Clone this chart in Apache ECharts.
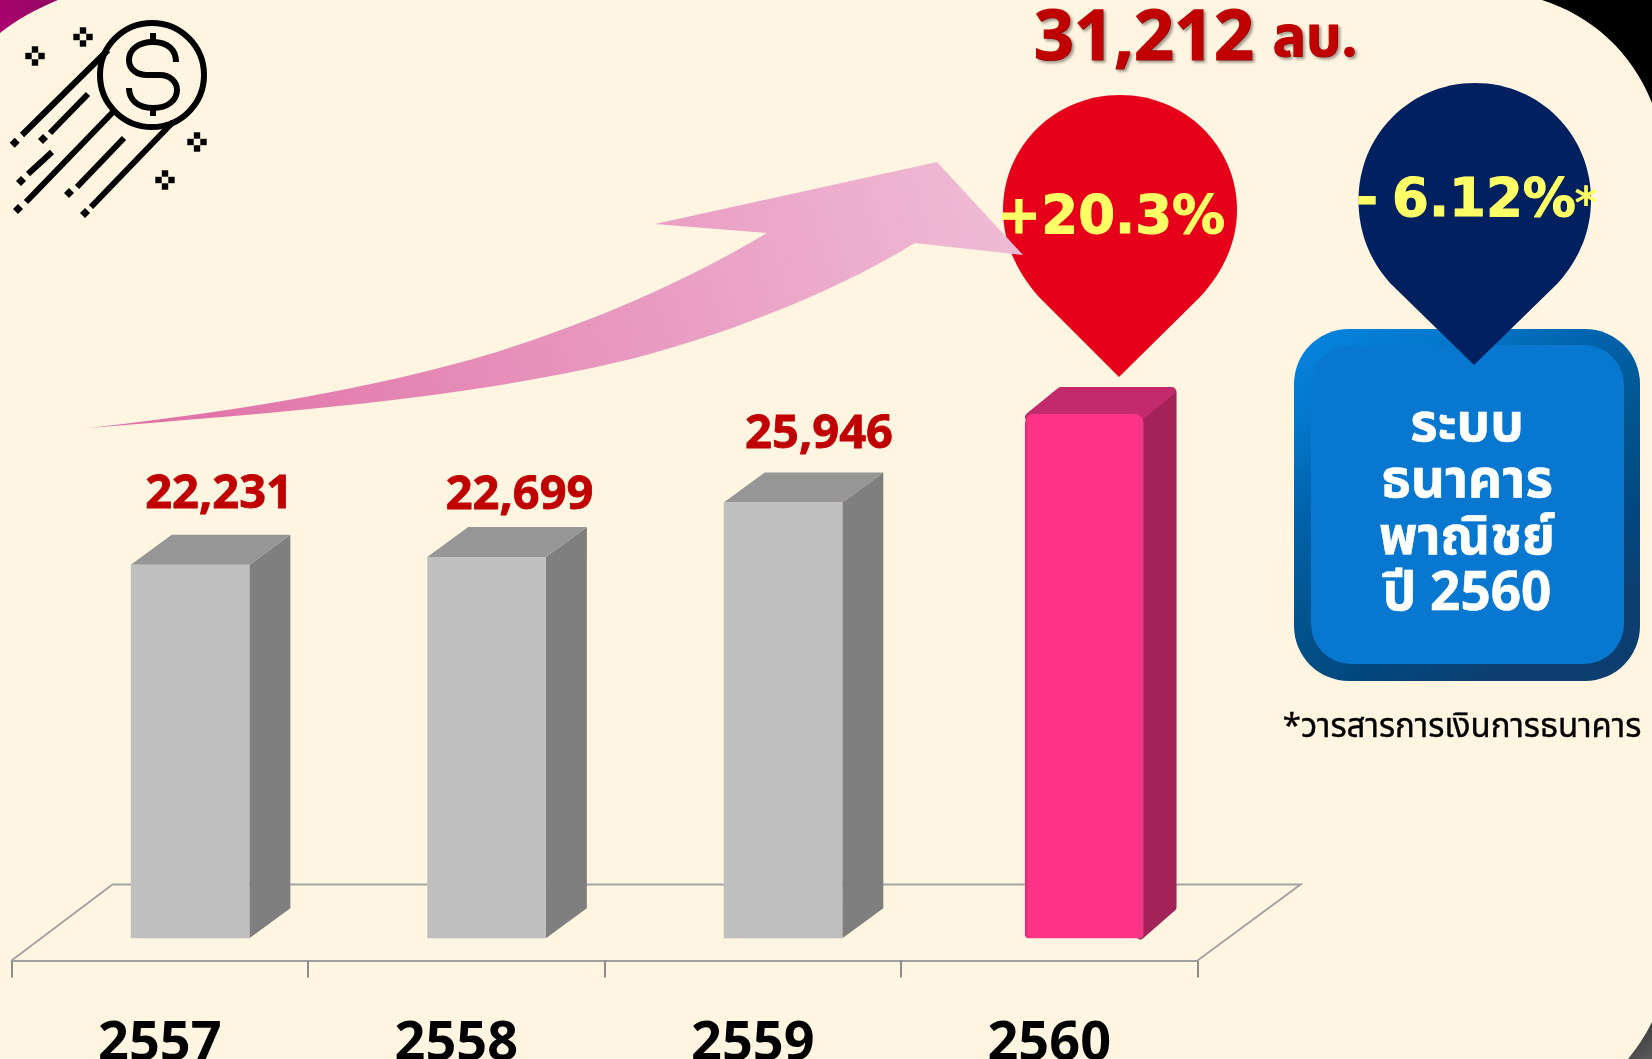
<!DOCTYPE html>
<html>
<head>
<meta charset="utf-8">
<style>html,body{margin:0;padding:0;background:#FFF5E1}#c{width:1652px;height:1059px}</style>
<script src="https://cdn.jsdelivr.net/npm/echarts@6/dist/echarts.min.js"></script>
</head>
<body>
<div id="c"></div>
<script>
const categories = ['2557', '2558', '2559', '2560'];
const revenue = [22231, 22699, 25946, 31212];
const highlightIndex = 3;
const unitText = 'ลบ.';
const growthText = '+20.3%';
const bankGrowthText = '6.12%';
const boxLines = ['ระบบ', 'ธนาคาร', 'พาณิชย์', 'ปี 2560'];
const footnote = '*วารสารการเงินการธนาคาร';

const THAI = '"Noto Sans Thai","Noto Sans","DejaVu Sans",sans-serif';
const chart = echarts.init(document.getElementById('c'), null, {renderer: 'canvas'});
const grad = (x0, y0, x1, y1, a, b) => new echarts.graphic.LinearGradient(x0, y0, x1, y1, [{offset: 0, color: a}, {offset: 1, color: b}]);
const P = (d, fill, extra) => ({type: 'path', shape: {pathData: d}, style: Object.assign({fill}, extra || {})});
const L = (x1, y1, x2, y2, c, w) => ({type: 'line', shape: {x1, y1, x2, y2}, style: {stroke: c, lineWidth: w}});
const T = (text, x, y, font, fill, extra) => ({type: 'text', style: Object.assign({text, x, y, font, fill, align: 'center', verticalAlign: 'middle'}, extra || {})});
const heavy = (c, w) => ({stroke: c, lineWidth: w});
const shadowed = (c, w) => ({stroke: c, lineWidth: w, textShadowColor: 'rgba(0,0,0,0.35)', textShadowBlur: 3, textShadowOffsetX: 2, textShadowOffsetY: 2});

function iconChildren() {
  const out = [];
  const s = (x1, y1, x2, y2) => out.push(L(x1, y1, x2, y2, '#000', 6));
  s(108, 50, 22, 135); s(88, 94, 50, 133); s(113, 112, 26, 202);
  s(52, 152, 28, 174); s(124, 138, 77, 187); s(173, 122, 91, 207);
  out.push({type: 'circle', shape: {cx: 152, cy: 75, r: 52}, style: {fill: 'none', stroke: '#000', lineWidth: 6}});
  out.push({type: 'path', shape: {pathData: 'M176 62 C176 50 168 42 153 42 C138 42 129 50 129 60 C129 70 138 75 147 75 L160 75 C170 75 177 82 177 90 C177 100 168 108 153 108 C138 108 129 100 129 88'}, style: {fill: 'none', stroke: '#000', lineWidth: 6}});
  s(153, 33, 153, 42); s(153, 108, 153, 116);
  const dia = (x, y, r) => out.push(P(`M${x - r} ${y} L${x} ${y - r} L${x + r} ${y} L${x} ${y + r} Z`, '#000'));
  const sq = (x, y, h) => out.push({type: 'rect', shape: {x: x - h, y: y - h, width: 2 * h, height: 2 * h}, style: {fill: '#000'}});
  [[14.7, 142.7], [43, 139], [21, 181], [69, 193], [18, 209], [85, 213]].forEach(p => dia(p[0], p[1], 5));
  [[35, 56], [83, 37], [197, 142], [165, 180]].forEach(p => {
    sq(p[0] - 6.5, p[1], 3.2); sq(p[0] + 6.5, p[1], 3.2); sq(p[0], p[1] - 6.5, 3.2); sq(p[0], p[1] + 6.5, 3.2);
  });
  return out;
}

function backItems() {
  return {type: 'group', children: [
    P('M0 0 L58 0 C36 9 16 20 0 33 Z', grad(0, 1, 1, 0, '#AE0070', '#8E0A62')),
    P('M1542 0 C1592 16 1632 52 1652 103 L1652 0 Z', '#000'),
    P('M1652 1022 C1645 1036 1637 1048 1628 1059 L1652 1059 Z', grad(0, 0, 1, 1, '#333333', '#5A5A5A')),
    {type: 'polyline', shape: {points: [[11.6, 960.5], [112.5, 884.5], [1300.5, 884.5], [1197.5, 960.5]]}, style: {fill: 'none', stroke: '#A4A4A4', lineWidth: 2}}
  ].concat(iconChildren())};
}

function frontItems() {
  const x0 = 1294, x1 = 1640, y0 = 329, y1 = 681, R = 55;
  const bevel = new echarts.graphic.LinearGradient(0, 0, 0.6, 1, [
    {offset: 0, color: '#0585E0'}, {offset: 0.2, color: '#0478CC'}, {offset: 0.38, color: '#0164AE'},
    {offset: 0.6, color: '#02558F'}, {offset: 0.8, color: '#014880'}, {offset: 0.97, color: '#0C3F70'}
  ]);
  return {type: 'group', children: [
    {type: 'rect', shape: {x: x0, y: y0, width: x1 - x0, height: y1 - y0, r: R}, style: {fill: bevel}},
    {type: 'rect', shape: {x: 1311, y: 345, width: 313, height: 319, r: 40}, style: {fill: '#0777CF'}},
    P('M1119 377 L1039 297 C1015 270 1003 240 1003 210 C1003 146 1055 95 1120 95 C1185 95 1237 146 1237 210 C1237 240 1225 270 1200 297 Z', '#E60019'),
    P('M1474 365 L1390 283 C1368 258 1358.5 230 1358.5 200 C1358.5 135 1410 83 1475 83 C1540 83 1591 135 1591 200 C1591 230 1580 258 1558 283 Z', '#002060'),
    P('M88 428 C230 412 370 390 497 352 C590 322 680 285 767 233 L655 224 L937 162 L1023 255 L915 243 C850 283 745 330 627 360 C460 400 270 413 88 428 Z', grad(0, 1, 1, 0, '#DF6BA3', '#F0BDD6')),
    T(growthText, 1111, 219, 'bold 53px "DejaVu Sans"', '#FFFF66', heavy('#FFFF66', 1)),
    T('-', 1367, 202, 'bold 53px "DejaVu Sans"', '#FFFF66', heavy('#FFFF66', 1)),
    T(bankGrowthText, 1484, 202, 'bold 53px "DejaVu Sans"', '#FFFF66', heavy('#FFFF66', 1)),
    T('*', 1586, 207, 'bold 44px "DejaVu Sans"', '#FFFF66'),
    T(unitText, 1315, 45, 'bold 56px ' + THAI, '#C00000', shadowed('#C00000', 1)),
    ...boxLines.map((t, i) => T(t, 1467, 430 + i * 56.5, 'bold 53px ' + THAI, '#FFFFFF', heavy('#FFFFFF', 0.6))),
    T(footnote, 1462, 730, '33px ' + THAI, '#000000', heavy('#000000', 0.4))
  ]};
}

// pixel tweaks of the value labels relative to each bar's front-top corner
const labelDx = [29, 33, 36];
const labelDy = [70, 61, 68];

function renderBar(params, api) {
  const i = api.value(0);
  const v = api.value(1);
  const band = api.size([1, 0])[0];
  const top = api.coord([i, v]);
  const base = api.coord([i, 0]);
  const hi = i === highlightIndex;
  const w = band * 0.4;
  const off = band * (hi ? 0.118 : 0.102);
  const dx = hi ? 33 : 41, dy = hi ? -27 : -30;
  const l = top[0] + off - w / 2, r = l + w, t = top[1], b = base[1];
  const children = [];
  if (hi) {
    const rp = {lineWidth: 8, lineJoin: 'round'};
    children.push(
      {type: 'polygon', shape: {points: [[r - 3, t + 4], [r + dx - 4, t + dy + 5], [r + dx - 4, b + dy - 4], [r - 3, b - 3]]}, style: Object.assign({fill: '#A32358', stroke: '#A32358'}, rp)},
      {type: 'polygon', shape: {points: [[l + 4, t + 3], [l + dx + 3, t + dy + 4], [r + dx - 5, t + dy + 4], [r - 4, t + 3]]}, style: Object.assign({fill: '#C32A6C', stroke: '#C32A6C'}, rp)},
      {type: 'rect', shape: {x: l, y: t, width: w, height: b - t, r: [9, 9, 4, 4]}, style: {fill: new echarts.graphic.LinearGradient(0, 0, 1, 0, [{offset: 0, color: '#D62B72'}, {offset: 0.03, color: '#FF3385'}, {offset: 0.92, color: '#FF3385'}, {offset: 1, color: '#F0378A'}])}},
      T(echarts.format.addCommas(v), 1144, 40, 'bold 70px "Noto Sans"', '#C00000', shadowed('#C00000', 1.2))
    );
  } else {
    children.push(
      {type: 'polygon', shape: {points: [[r, t], [r + dx, t + dy], [r + dx, b + dy], [r, b]]}, style: {fill: '#7F7F7F'}},
      {type: 'polygon', shape: {points: [[l, t], [l + dx, t + dy], [r + dx, t + dy], [r, t]]}, style: {fill: '#969696'}},
      {type: 'rect', shape: {x: l, y: t, width: w, height: b - t}, style: {fill: '#BFBFBF'}},
      T(echarts.format.addCommas(v), l + w / 2 + labelDx[i], t - labelDy[i], 'bold 47px "Noto Sans"', '#C00000', heavy('#C00000', 0.8))
    );
  }
  return {type: 'group', children};
}

chart.setOption({
  animation: false,
  backgroundColor: '#FFF5E1',
  grid: {left: 11.6, top: 350.3, width: 1185.9, height: 588, outerBoundsMode: 'none'},
  xAxis: {
    type: 'category', data: categories, offset: 22.2,
    axisLine: {onZero: false, lineStyle: {color: '#A0A0A0', width: 2}},
    axisTick: {show: true, length: 17, alignWithLabel: false, lineStyle: {color: '#8C8C8C', width: 2}},
    axisLabel: {color: '#000', fontFamily: 'Noto Sans', fontWeight: 'bold', fontSize: 54, margin: 57},
    splitLine: {show: false}
  },
  yAxis: {type: 'value', min: 0, max: 35000, show: false},
  series: [
    {type: 'custom', name: 'back', coordinateSystem: 'none', z: 1, silent: true, data: [0], renderItem: backItems},
    {type: 'custom', name: 'revenue', z: 2, silent: true, encode: {x: 0, y: 1},
      data: revenue.map((v, i) => [i, v]), renderItem: renderBar},
    {type: 'custom', name: 'front', coordinateSystem: 'none', z: 3, silent: true, data: [0], renderItem: frontItems}
  ]
});
</script>
</body>
</html>
